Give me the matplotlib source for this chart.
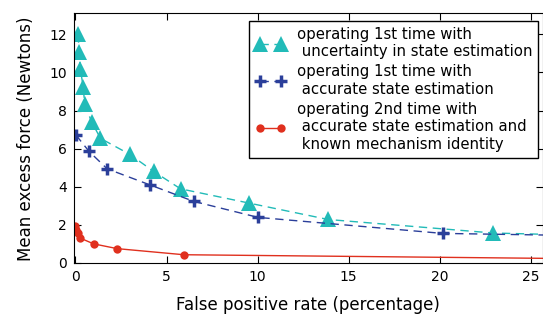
import numpy as np
import matplotlib
matplotlib.use('Agg')
import matplotlib.pyplot as plt

# uncertainty in state estimation (1st time)
fp_uncert = [0.14, 0.20, 0.27, 0.42, 0.51, 0.88, 1.37, 2.98, 4.30, 5.77, 9.54, 13.88, 22.95, 30.0]
force_uncert = [12.0, 11.08, 10.17, 9.25, 8.32, 7.42, 6.54, 5.70, 4.80, 3.89, 3.14, 2.28, 1.57, 1.40]

# accurate state estimation (1st time)
fp_accurate = [0.02, 0.75, 1.74, 4.08, 6.50, 10.03, 20.16, 30.0]
force_accurate = [6.72, 5.85, 4.94, 4.10, 3.23, 2.39, 1.55, 1.40]

# 2nd time, known mechanism
fp_known = [0.0, 0.05, 0.12, 0.24, 1.0, 2.29, 5.95, 30.0]
force_known = [1.92, 1.72, 1.55, 1.31, 1.0, 0.75, 0.43, 0.20]

c_cyan = '#22bbb8'
c_blue = '#2b3f9a'
c_red = '#e0301e'

fig = plt.figure(figsize=(5.43, 3.19), dpi=100)
ax = fig.add_axes([0.136, 0.174, 0.864, 0.784])

ax.plot(fp_uncert, force_uncert, color=c_cyan, linestyle='--', dashes=(6, 4),
        linewidth=1, marker='^', markersize=12, markeredgewidth=0,
        label='operating 1st time with\n uncertainty in state estimation')
ax.plot(fp_accurate, force_accurate, color=c_blue, linestyle='--', dashes=(6, 4),
        linewidth=1, marker='+', markersize=9, markeredgewidth=2.5,
        label='operating 1st time with\n accurate state estimation')
ax.plot(fp_known, force_known, color=c_red, linestyle='-', linewidth=1,
        marker='o', markersize=6, markeredgewidth=0,
        label='operating 2nd time with\n accurate state estimation and\n known mechanism identity')

ax.set_xlim(-0.09, 25.68)
ax.set_ylim(-0.03, 13.1)
ax.set_xticks([0, 5, 10, 15, 20, 25])
ax.set_yticks([0, 2, 4, 6, 8, 10, 12])
ax.tick_params(direction='in', top=True, right=True, labelsize=10, length=5, pad=5)

ax.set_xlabel('False positive rate (percentage)', fontsize=12, labelpad=8)
ax.set_ylabel('Mean excess force (Newtons)', fontsize=12, labelpad=10)

leg = ax.legend(loc='upper right', bbox_to_anchor=(0.99, 0.97), borderaxespad=0,
                numpoints=2, fontsize=10.7, fancybox=False, framealpha=1,
                edgecolor='black', handlelength=2.0, handletextpad=0.8,
                borderpad=0.4, labelspacing=0.35)
leg.get_frame().set_linewidth(1)

fig.savefig('out.png', dpi=100)
